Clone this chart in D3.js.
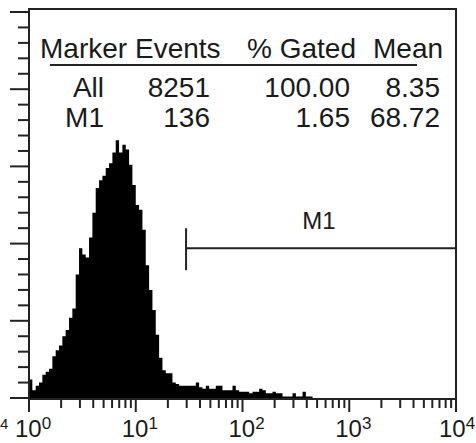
<!DOCTYPE html>
<html>
<head>
<meta charset="utf-8">
<script src="https://cdn.jsdelivr.net/npm/d3@7"></script>
<style>
  body { margin: 0; background: #fff; }
  svg text { font-family: "Liberation Sans", Arial, sans-serif; fill: #1a1a1a; }
</style>
</head>
<body>
<div id="chart"></div>
<script>
// histogram counts, log bins of 1/32 decade starting at 10^0
var counts = [12, 5, 8, 10, 15, 17, 19, 27, 31, 34,
              40, 44, 52, 58, 80, 97, 93, 91, 104, 120,
              136, 141, 144, 149, 152, 159, 167, 159, 164, 161,
              151, 138, 125, 122, 109, 86, 70, 57, 41, 26,
              18, 16, 16, 10, 9, 8, 8, 8, 8, 8,
              10, 7, 6, 8, 6, 6, 8, 8, 5, 5,
              5, 8, 5, 4, 4, 4, 3, 4, 4, 6,
              5, 3, 3, 4, 3, 3, 1, 1, 1, 3,
              1, 1, 4, 1, 1];
var binsPerDecade = 32;

var xDecades = [1, 10, 100, 1000, 10000];
var yTicks = d3.range(0, 251, 10);

// stats table
var tableHeader = ["Marker", "Events", "% Gated", "Mean"];
var tableRows = [
  ["All", "8251", "100.00", "8.35"],
  ["M1", "136", "1.65", "68.72"]
];

// marker M1 range
var markerName = "M1";
var markerRange = [29.6, 10000];
var markerLevel = 97;

var W = 476, H = 443;
var pLeft = 29, pRight = 456, pTop = 9, pBottom = 399;

var svg = d3.select("#chart").append("svg")
  .attr("width", W).attr("height", H);

var x = d3.scaleLog().domain([1, 10000]).range([pLeft, pRight]);
var y = d3.scaleLinear().domain([0, 250]).range([398, 12]);

// histogram
var pts = counts.map(function(c, i) { return { v: Math.pow(10, i / binsPerDecade), c: c }; });
pts.push({ v: Math.pow(10, counts.length / binsPerDecade), c: 0 });

var area = d3.area()
  .curve(d3.curveStepAfter)
  .x(function(d) { return x(d.v); })
  .y0(y(0))
  .y1(function(d) { return y(d.c); });

svg.append("path")
  .datum(pts)
  .attr("d", area)
  .attr("fill", "#000");

// frame
svg.append("rect")
  .attr("x", pLeft).attr("y", pTop)
  .attr("width", pRight - pLeft).attr("height", pBottom - pTop)
  .attr("fill", "none").attr("stroke", "#222").attr("stroke-width", 2);

// y ticks (no labels)
svg.append("g").selectAll("line").data(yTicks).enter().append("line")
  .attr("x1", function(d) { return d % 50 == 0 ? 10 : 18; })
  .attr("x2", pLeft)
  .attr("y1", function(d) { return y(d); })
  .attr("y2", function(d) { return y(d); })
  .attr("stroke", "#222").attr("stroke-width", 2);

// x ticks
var xTicks = [];
xDecades.forEach(function(d, i) {
  xTicks.push({ v: d, major: true });
  if (i < xDecades.length - 1) {
    for (var k = 2; k < 10; k++) xTicks.push({ v: d * k, major: false });
  }
});

svg.append("g").selectAll("line").data(xTicks).enter().append("line")
  .attr("x1", function(d) { return x(d.v); })
  .attr("x2", function(d) { return x(d.v); })
  .attr("y1", pBottom)
  .attr("y2", function(d) { return d.major ? 412 : 408; })
  .attr("stroke", "#222").attr("stroke-width", 2);

// x labels 10^n
var xl = svg.append("g").selectAll("text").data(xDecades).enter().append("text")
  .attr("x", function(d, i) { return x(d) - (i == xDecades.length - 1 ? 17 : 14); })
  .attr("y", 437)
  .style("font-size", "24px");
xl.append("tspan").text("10");
xl.append("tspan")
  .attr("dy", -8)
  .style("font-size", "17px")
  .text(function(d) { return Math.round(Math.log10(d)); });

// cut-off label at the left edge
svg.append("text")
  .attr("x", 0).attr("y", 429)
  .style("font-size", "15px")
  .text("4");

// table
var headX = [40, 135, 247, 373];
svg.append("g").selectAll("text").data(tableHeader).enter().append("text")
  .attr("x", function(d, i) { return headX[i]; })
  .attr("y", 58)
  .style("font-size", "28px")
  .text(function(d) { return d; });

svg.append("line")
  .attr("x1", 50).attr("x2", 417)
  .attr("y1", 65).attr("y2", 65)
  .attr("stroke", "#222").attr("stroke-width", 2);

var colRight = [104, 210, 350, 440];
var rowY = [97, 127];
tableRows.forEach(function(row, r) {
  svg.append("g").selectAll("text").data(row).enter().append("text")
    .attr("x", function(d, i) { return colRight[i]; })
    .attr("y", rowY[r])
    .attr("text-anchor", "end")
    .style("font-size", "28px")
    .text(function(d) { return d; });
});

// marker M1
var mx0 = x(markerRange[0]), mx1 = x(markerRange[1]);
svg.append("line")
  .attr("x1", mx0).attr("x2", mx1)
  .attr("y1", y(markerLevel)).attr("y2", y(markerLevel))
  .attr("stroke", "#222").attr("stroke-width", 2);
svg.append("line")
  .attr("x1", mx0).attr("x2", mx0)
  .attr("y1", y(markerLevel) - 20).attr("y2", y(markerLevel) + 22)
  .attr("stroke", "#222").attr("stroke-width", 2);
svg.append("text")
  .attr("x", (mx0 + mx1) / 2 - 2)
  .attr("y", 229)
  .attr("text-anchor", "middle")
  .style("font-size", "24px")
  .text(markerName);
</script>
</body>
</html>
